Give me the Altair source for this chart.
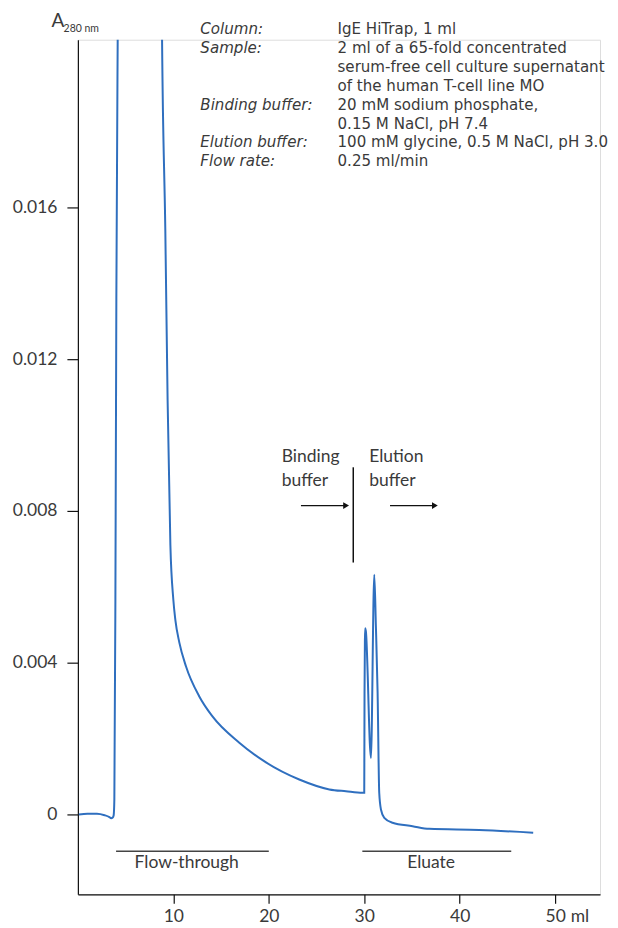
import altair as alt
import pandas as pd

# ---- chromatogram trace (ml, A280) ----
vol = [0.1, 1.0, 2.0, 2.8, 3.3, 3.48, 3.65, 3.75, 3.82, 3.93, 4.03, 4.17, 4.25, 6.5,
       8.75, 8.82, 9.16, 9.40, 9.69, 10.0, 10.21, 10.63, 11.33, 12.72, 14.08, 16.91,
       19.71, 23.19, 26.34, 28.08, 29.82, 30.0, 30.03, 30.07, 30.1, 30.17, 30.7,
       31.05, 31.22, 31.4, 31.57, 31.75, 32.1, 32.96, 35.06, 36.8, 42.04, 47.7]
absorb = [0.0, 0.00002, 0.00002, -0.00002, -0.00007, -0.0001, -0.00008, -0.00002, 0.0004,
          0.0057, 0.0136, 0.0204, 0.0235, 0.05, 0.0225, 0.0204, 0.01539, 0.01092, 0.0071,
          0.00566, 0.00513, 0.00453, 0.0039, 0.00311, 0.00259, 0.00189, 0.00137, 0.00092,
          0.00066, 0.00061, 0.00057, 0.00057, 0.0032, 0.0046, 0.00491, 0.00483, 0.00149,
          0.00632, 0.00496, 0.0032, 0.00057, 0.00013, -0.00009, -0.00022, -0.00031,
          -0.00038, -0.00041, -0.00048]

x_ticks = [10, 20, 30, 40, 50]
y_ticks = [0, 0.004, 0.008, 0.012, 0.016]

# info block: label groups (first row index, lines) and the value lines
info_label_groups = [(0, ["Column:", "Sample:"]),
                     (4, ["Binding buffer:"]),
                     (6, ["Elution buffer:", "Flow rate:"])]
info_values = ["IgE HiTrap, 1 ml", "2 ml of a 65-fold concentrated",
               "serum-free cell culture supernatant", "of the human T-cell line MO",
               "20 mM sodium phosphate,", "0.15 M NaCl, pH 7.4",
               "100 mM glycine, 0.5 M NaCl, pH 3.0", "0.25 ml/min"]

FONT = "Lato"
INFO_FONT = "DejaVu Sans"
TXT = "#3a3a3a"
BLUE = "#2f6fbf"
FS = 17.5
LH = 18.9            # line height of the info block (px)
PX_PER_UNIT = 38000  # y pixels per absorbance unit (used only for line spacing)

X_DOM = [0, 54.7]
Y_DOM = [-0.002105, 0.020421]

xs = alt.Scale(domain=X_DOM, nice=False, zero=False)
ys = alt.Scale(domain=Y_DOM, nice=False, zero=False)

trace = pd.DataFrame({"ml": vol, "A": absorb})

base_x = alt.X("ml:Q", scale=xs, axis=alt.Axis(
    values=x_ticks, title=None, grid=False, tickSize=9, labelPadding=4,
    labelFontSize=FS, labelFont=FONT, labelColor=TXT, domainColor="#111",
    tickColor="#111", domainWidth=1.2, tickWidth=1.2, labelFlush=False))
base_y = alt.Y("A:Q", scale=ys, axis=alt.Axis(
    values=y_ticks, title=None, grid=False, tickSize=11, labelPadding=10,
    labelFontSize=FS, labelFont=FONT, labelColor=TXT, domainColor="#111",
    tickColor="#111", domainWidth=1.2, tickWidth=1.2,
    labelExpr="datum.value == 0 ? '0' : format(datum.value, '.3f')", labelFlush=False))

line = alt.Chart(trace).mark_line(color=BLUE, strokeWidth=2, clip=True, interpolate="monotone").encode(
    x=base_x, y=base_y, order=alt.Order("ml:Q"))

# Fraction bars
bars = pd.DataFrame({"x1": [4.0, 29.8], "x2": [20.0, 45.4], "y": [-0.00097, -0.00097],
                     "label": ["Flow-through", "Eluate"], "xc": [11.4, 37.0], "yt": [-0.00129, -0.00129]})
bar_rules = alt.Chart(bars).mark_rule(color="#444", strokeWidth=1.5).encode(
    x=alt.X("x1:Q", scale=xs), x2="x2:Q", y=alt.Y("y:Q", scale=ys))
bar_text = alt.Chart(bars).mark_text(font=FONT, fontSize=FS, color=TXT, baseline="middle").encode(
    x=alt.X("xc:Q", scale=xs), y=alt.Y("yt:Q", scale=ys), text="label:N")

# buffer change annotation
buf_txt = pd.DataFrame({"x": [21.35, 21.35, 30.52, 30.52],
                        "y": [0.00942, 0.00879, 0.00942, 0.00879],
                        "t": ["Binding", "buffer", "Elution", "buffer"]})
buf_text = alt.Chart(buf_txt).mark_text(font=FONT, fontSize=FS, color=TXT, align="left", baseline="middle").encode(
    x=alt.X("x:Q", scale=xs), y=alt.Y("y:Q", scale=ys), text="t:N")

sep = pd.DataFrame({"x": [28.85], "y1": [0.00915], "y2": [0.00664]})
sep_rule = alt.Chart(sep).mark_rule(color="#111", strokeWidth=1.5).encode(
    x=alt.X("x:Q", scale=xs), y=alt.Y("y1:Q", scale=ys), y2="y2:Q")

arrows = pd.DataFrame({"x1": [23.37, 32.7], "x2": [28.0, 37.3], "xh": [28.1, 37.4], "y": [0.00814, 0.00814]})
arrow_lines = alt.Chart(arrows).mark_rule(color="#111", strokeWidth=1.3).encode(
    x=alt.X("x1:Q", scale=xs), x2="x2:Q", y=alt.Y("y:Q", scale=ys))
arrow_heads = alt.Chart(arrows).mark_point(shape="triangle-right", filled=True, color="#111", size=45, opacity=1).encode(
    x=alt.X("xh:Q", scale=xs), y=alt.Y("y:Q", scale=ys))

# info block
INFO_TOP = 0.02088
INFO_FS = 15.1
info_val = alt.Chart(pd.DataFrame({"x": [27.2], "y": [INFO_TOP]})).mark_text(
    text=info_values, font=INFO_FONT, fontSize=INFO_FS, color=TXT,
    align="left", baseline="top", lineHeight=LH).encode(
    x=alt.X("x:Q", scale=xs), y=alt.Y("y:Q", scale=ys))
info_labs = []
for row, lines in info_label_groups:
    info_labs.append(alt.Chart(pd.DataFrame({"x": [12.83], "y": [INFO_TOP - row * LH / PX_PER_UNIT]})).mark_text(
        text=lines, font=INFO_FONT, fontSize=INFO_FS, fontStyle="italic", color=TXT,
        align="left", baseline="top", lineHeight=LH).encode(
        x=alt.X("x:Q", scale=xs), y=alt.Y("y:Q", scale=ys)))

# axis title A280 nm and unit "ml"
ttl = pd.DataFrame({"x": [-2.09, -1.5], "y": [0.02092, 0.02071], "t": ["A", "280 nm"]})
ttl_A = alt.Chart(ttl.iloc[[0]]).mark_text(font=FONT, fontSize=19, color=TXT, align="center", baseline="middle").encode(
    x=alt.X("x:Q", scale=xs), y=alt.Y("y:Q", scale=ys), text="t:N")
ttl_sub = alt.Chart(ttl.iloc[[1]]).mark_text(font=FONT, fontSize=10.5, color=TXT, align="left", baseline="middle").encode(
    x=alt.X("x:Q", scale=xs), y=alt.Y("y:Q", scale=ys), text="t:N")

unit = pd.DataFrame({"x": [52.6], "y": [-0.00271], "t": ["ml"]})
unit_text = alt.Chart(unit).mark_text(font=FONT, fontSize=FS, color=TXT, align="center", baseline="middle").encode(
    x=alt.X("x:Q", scale=xs), y=alt.Y("y:Q", scale=ys), text="t:N")

chart = alt.layer(line, bar_rules, bar_text, buf_text, sep_rule, arrow_lines, arrow_heads,
                  info_val, *info_labs, ttl_A, ttl_sub, unit_text).properties(
    width=523, height=856,
    autosize=alt.AutoSizeParams(type="none"),
    padding={"left": 70, "top": 31, "right": 10, "bottom": 34},
).configure_view(strokeWidth=0, stroke="transparent").configure(background="white")

chart.save("out.html", embed_options={"renderer": "svg", "actions": False})
